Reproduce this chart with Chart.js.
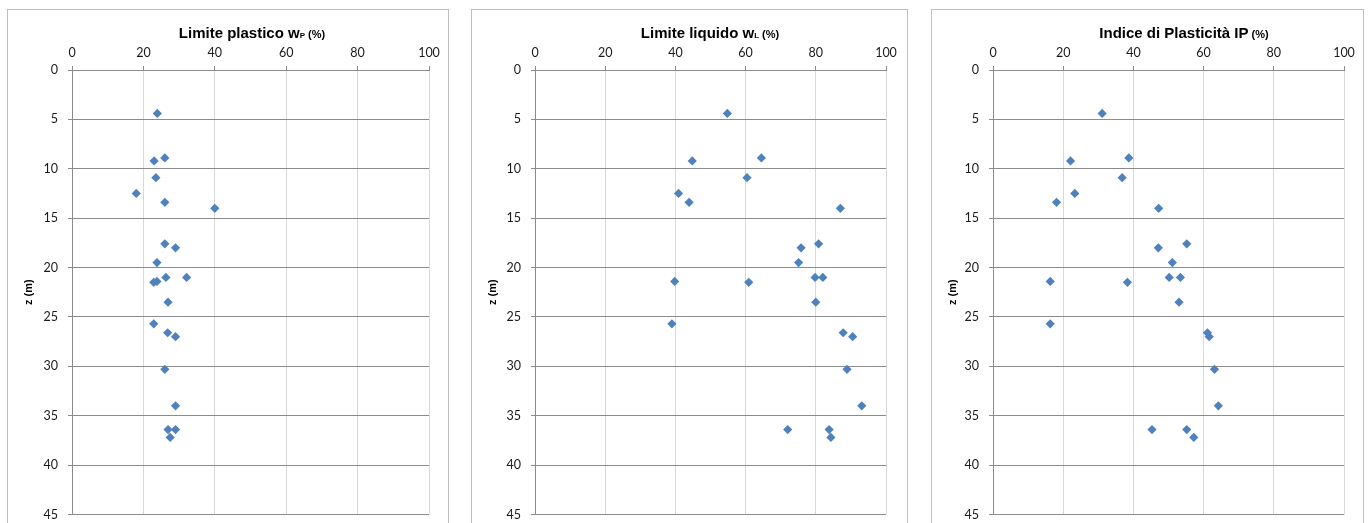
<!DOCTYPE html>
<html>
<head>
<meta charset="utf-8">
<title>Limiti di Atterberg</title>
<script src="https://cdn.jsdelivr.net/npm/chart.js@4.4.1/dist/chart.umd.min.js"></script>
<style>
  body { margin: 0; background: #fff; width: 1370px; height: 523px; overflow: hidden; position: relative; }
  .panel { position: absolute; top: 9px; height: 540px; border: 1px solid #bfbfbf; background: #fff; }
  .panel canvas { display: block; }
</style>
</head>
<body>
<div class="panel" style="left:7px;width:440px"><canvas id="wpChart" width="440" height="522"></canvas></div>
<div class="panel" style="left:471px;width:435px"><canvas id="wlChart" width="435" height="522"></canvas></div>
<div class="panel" style="left:931px;width:431px"><canvas id="ipChart" width="431" height="522"></canvas></div>
<script>
// sample depths (m), shared by the three profiles
const depth = [4.4, 8.9, 9.2, 10.9, 12.5, 13.4, 14.0, 17.6, 18.0, 19.5, 21.0, 21.0, 21.4, 21.5, 23.5, 25.7, 26.6, 27.0, 30.3, 34.0, 36.4, 36.4, 37.2];
// plastic limit wP (%)
const wP = [23.9, 26.0, 23.0, 23.5, 18.0, 26.0, 40.0, 26.0, 29.0, 23.8, 26.3, 32.1, 23.8, 22.9, 26.9, 22.9, 26.8, 29.0, 26.0, 29.0, 26.9, 29.0, 27.5];
// liquid limit wL (%)
const wL = [54.8, 64.5, 44.8, 60.4, 40.9, 43.9, 87.0, 80.8, 75.8, 75.1, 79.8, 82.0, 39.8, 60.9, 80.0, 39.0, 87.8, 90.5, 88.9, 93.1, 72.0, 83.8, 84.3];
// plasticity index IP (%)
const IP = [31.1, 38.7, 22.1, 36.8, 23.3, 18.1, 47.2, 55.2, 47.1, 51.1, 53.4, 50.2, 16.3, 38.3, 53.0, 16.3, 61.1, 61.6, 63.1, 64.2, 45.3, 55.2, 57.2];

const xTicks = [0, 20, 40, 60, 80, 100];
const zTicks = [0, 5, 10, 15, 20, 25, 30, 35, 40, 45];

const TITLE_FONT = '"Liberation Sans", Arial, sans-serif';
const TICK_FONT = 'Lato, "Open Sans", sans-serif';

// title with a subscript and a smaller "(%)" part
const richTitle = {
  id: 'richTitle',
  afterDraw(chart, args, opts) {
    const ctx = chart.ctx;
    const parts = opts.parts || [];
    ctx.save();
    const widths = parts.map(p => { ctx.font = p.font; return ctx.measureText(p.text).width; });
    const total = widths.reduce((a, b) => a + b, 0);
    let x = opts.x - total / 2;
    ctx.fillStyle = '#000';
    ctx.textBaseline = 'alphabetic';
    ctx.textAlign = 'left';
    parts.forEach((p, i) => {
      ctx.font = p.font;
      ctx.fillText(p.text, x, opts.y);
      x += widths[i];
    });
    ctx.restore();
  }
};

function makeChart(id, values, parts, titleX, plotLeft, rightPad) {
  const points = values.map((v, i) => ({ x: v, y: depth[i] }));
  return new Chart(document.getElementById(id), {
    type: 'scatter',
    data: {
      datasets: [{
        data: points,
        pointStyle: 'rectRot',
        pointRadius: 4.6,
        pointBorderWidth: 0,
        backgroundColor: '#4f81bd',
        borderColor: '#4f81bd'
      }]
    },
    options: {
      responsive: false,
      animation: false,
      devicePixelRatio: 1,
      layout: { padding: { left: 0, right: rightPad, top: 0, bottom: 14 } },
      plugins: {
        legend: { display: false },
        tooltip: { enabled: false },
        richTitle: { parts: parts, x: titleX, y: 28 }
      },
      scales: {
        x: {
          type: 'linear',
          position: 'top',
          min: 0,
          max: 100,
          afterBuildTicks: (s) => { s.ticks = xTicks.map(v => ({ value: v })); },
          afterFit: (s) => { s.height = 60; },
          ticks: { color: '#1a1a1a', font: { family: TICK_FONT, size: 12.5 }, padding: 6, maxRotation: 0 },
          grid: { color: '#d9d9d9', lineWidth: 1, tickLength: 4, tickColor: '#8c8c8c' },
          border: { color: '#8c8c8c' }
        },
        y: {
          type: 'linear',
          reverse: true,
          min: 0,
          max: 45,
          afterBuildTicks: (s) => { s.ticks = zTicks.map(v => ({ value: v })); },
          afterFit: (s) => { s.width = plotLeft; },
          ticks: { color: '#1a1a1a', font: { family: TICK_FONT, size: 12.5 }, padding: 10 },
          title: {
            display: true,
            text: 'z (m)',
            color: '#000',
            font: { family: TITLE_FONT, size: 11, weight: 'bold' },
            padding: { top: 14, bottom: 0 }
          },
          grid: { color: '#8c8c8c', lineWidth: 1, tickLength: 4, tickColor: '#8c8c8c' },
          border: { color: '#8c8c8c' }
        }
      }
    },
    plugins: [richTitle]
  });
}

const big = 'bold 15px ' + TITLE_FONT;
const sub = 'bold 8px ' + TITLE_FONT;
const unit = 'bold 11px ' + TITLE_FONT;

makeChart('wpChart', wP, [
  { text: 'Limite plastico w', font: big },
  { text: 'P', font: sub },
  { text: ' (%)', font: unit }
], 244, 64, 19);

makeChart('wlChart', wL, [
  { text: 'Limite liquido w', font: big },
  { text: 'L', font: sub },
  { text: ' (%)', font: unit }
], 238, 63, 21);

makeChart('ipChart', IP, [
  { text: 'Indice di Plasticità IP', font: big },
  { text: ' (%)', font: unit }
], 252, 61, 19);
</script>
</body>
</html>
